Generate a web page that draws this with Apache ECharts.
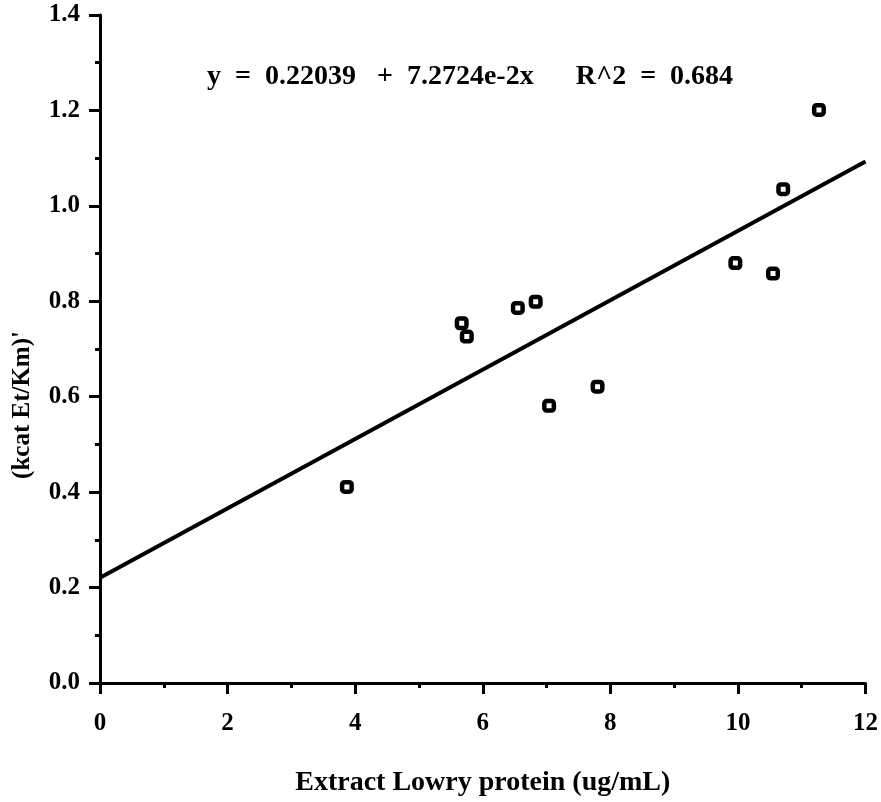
<!DOCTYPE html>
<html>
<head>
<meta charset="utf-8">
<script src="https://cdn.jsdelivr.net/npm/echarts@6/dist/echarts.min.js"></script>
<style>
html,body{margin:0;padding:0;background:#fff;}
#chart{width:881px;height:802px;}
</style>
</head>
<body>
<div id="chart"></div>
<script>
// Data
const proteinX = [3.87, 5.67, 5.75, 6.55, 6.83, 7.04, 7.80, 9.96, 10.55, 10.71, 11.27];
const kcatY    = [0.411, 0.754, 0.726, 0.786, 0.799, 0.581, 0.621, 0.880, 0.858, 1.035, 1.201];
// Fitted line endpoints (y = 0.22039 + 0.072724x at x = 0 and x = 12)
const fitX = [0, 12];
const fitY = [0.22039, 1.09308];
const equationText = 'y = 0.22039 + 7.2724e-2x      R^2 = 0.684'.replace(/ = /g, '  =  ').replace(' + ', '   +  ');
const xTitle = 'Extract Lowry protein (ug/mL)';
const yTitle = "(kcat Et/Km)'";

const FONT = '"Liberation Serif", "DejaVu Serif", serif';
const chart = echarts.init(document.getElementById('chart'), null, {renderer: 'canvas'});

const axisCommon = {
  axisLine: {show: true, onZero: false, lineStyle: {color: '#000', width: 3}},
  axisTick: {show: true, inside: false, length: 11, lineStyle: {color: '#000', width: 3}},
  minorTick: {show: true, splitNumber: 2, length: 5, lineStyle: {color: '#000', width: 3}},
  splitLine: {show: false},
  minorSplitLine: {show: false}
};

chart.setOption({
  backgroundColor: '#fff',
  animation: false,
  grid: {left: 100, right: 14, top: 15, bottom: 116, containLabel: false},
  xAxis: Object.assign({
    type: 'value', min: 0, max: 12, interval: 2,
    name: xTitle, nameLocation: 'middle', nameGap: 86,
    nameTextStyle: {fontFamily: FONT, fontSize: 28, fontWeight: 'bold', color: '#000'},
    axisLabel: {margin: 28, fontFamily: FONT, fontSize: 25, fontWeight: 'bold', color: '#000'}
  }, axisCommon),
  yAxis: Object.assign({
    type: 'value', min: 0, max: 1.4, interval: 0.2,
    axisLabel: {margin: 20, fontFamily: FONT, fontSize: 25, fontWeight: 'bold', color: '#000',
      formatter: v => v.toFixed(1)}
  }, axisCommon),
  graphic: [
    {type: 'text', x: 207, y: 77,
     style: {text: equationText, font: 'bold 28px ' + FONT, fill: '#000', verticalAlign: 'middle'}},
    {type: 'text', x: 23, y: 405, rotation: Math.PI / 2,
     style: {text: yTitle, font: 'bold 25px ' + FONT, fill: '#000', align: 'center', verticalAlign: 'middle'}}
  ],
  series: [
    {
      type: 'line', data: fitX.map((x, i) => [x, fitY[i]]),
      showSymbol: false, symbol: 'none',
      lineStyle: {color: '#000', width: 4}, z: 2
    },
    {
      type: 'scatter', data: proteinX.map((x, i) => [x, kcatY[i]]),
      symbol: 'roundRect', symbolSize: 9.5,
      itemStyle: {color: '#fff', borderColor: '#000', borderWidth: 4.5, opacity: 1}, z: 3
    }
  ]
});
</script>
</body>
</html>
